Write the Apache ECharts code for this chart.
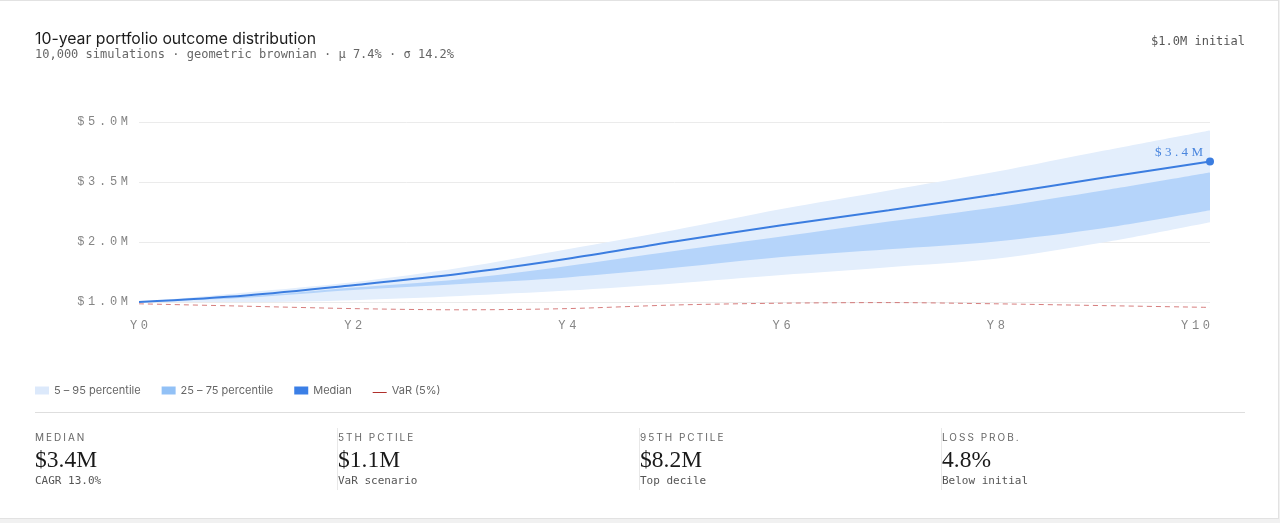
<!DOCTYPE html>
<html>
<head>
<meta charset="utf-8">
<script src="https://cdn.jsdelivr.net/npm/echarts@6/dist/echarts.min.js"></script>
<style>
html,body{margin:0;padding:0;width:1280px;height:523px;overflow:hidden;background:#f1f1f1;}
#card{position:absolute;left:0;top:0;width:1279px;height:519px;box-sizing:border-box;background:#fff;border:1px solid #e2e2e2;border-left:none;}
#chart{position:absolute;left:0;top:0;width:1280px;height:523px;}
.t{position:absolute;white-space:nowrap;z-index:2;}
#title{left:35px;top:30px;font:400 15.8px Inter,"Noto Sans",sans-serif;color:#1c1c1c;line-height:18px;}
#sub{left:35px;top:47px;font:12px "DejaVu Sans Mono",monospace;color:#666;line-height:14px;}
#init{right:35px;top:34px;font:12px "DejaVu Sans Mono",monospace;color:#555;line-height:14px;}
#sep{position:absolute;left:35px;top:412px;width:1210px;height:1px;background:#dedede;z-index:2;}
.col{position:absolute;top:428px;height:62px;width:300px;z-index:2;}
.col.b{border-left:1px solid #e8e8e8;}
.lab{position:absolute;left:0;top:3px;font:10px Inter,"Noto Sans",sans-serif;letter-spacing:2px;color:#666;line-height:12px;white-space:nowrap;}
.val{position:absolute;left:0;top:17px;font:23.5px "Liberation Serif",serif;color:#1a1a1a;line-height:28px;white-space:nowrap;}
.sb{position:absolute;left:0;top:46px;font:11px "DejaVu Sans Mono",monospace;color:#555;line-height:14px;white-space:nowrap;}
</style>
</head>
<body>
<div id="card"></div>
<div id="chart"></div>
<div class="t" id="title"></div>
<div class="t" id="sub"></div>
<div class="t" id="init"></div>
<div id="sep"></div>
<div id="stats"></div>
<script>
// ---- data ----
const years = ['Y0','Y1','Y2','Y3','Y4','Y5','Y6','Y7','Y8','Y9','Y10'];
const p5     = [1.00, 1.00, 1.03, 1.10, 1.19, 1.31, 1.45, 1.58, 1.72, 1.99, 2.33];
const p25    = [1.00, 1.07, 1.20, 1.30, 1.41, 1.57, 1.75, 1.88, 2.01, 2.23, 2.53];
const median = [1.00, 1.11, 1.28, 1.47, 1.72, 2.01, 2.28, 2.53, 2.79, 3.07, 3.34];
const p75    = [1.00, 1.09, 1.24, 1.38, 1.60, 1.85, 2.09, 2.34, 2.58, 2.86, 3.16];
const p95    = [1.00, 1.16, 1.33, 1.57, 1.88, 2.20, 2.55, 2.86, 3.17, 3.52, 3.86];
const var5   = [0.97, 0.93, 0.89, 0.87, 0.89, 0.95, 0.98, 0.99, 0.97, 0.94, 0.91];
const yTickValues = [1, 2, 3, 4];
const yTickLabels = ['$1.0M', '$2.0M', '$3.5M', '$5.0M'];
const endLabel = '$3.4M';
const legendNames = ['5 – 95 percentile', '25 – 75 percentile', 'Median', 'VaR (5%)'];
const statLabels = ['MEDIAN', '5TH PCTILE', '95TH PCTILE', 'LOSS PROB.'];
const statValues = ['$3.4M', '$1.1M', '$8.2M', '4.8%'];
const statSubs = ['CAGR 13.0%', 'VaR scenario', 'Top decile', 'Below initial'];
const titleText = '10-year portfolio outcome distribution';
const subtitleText = '10,000 simulations · geometric brownian · µ 7.4% · σ 14.2%';
const initialText = '$1.0M initial';

// ---- html text ----
document.getElementById('title').textContent = titleText;
document.getElementById('sub').textContent = subtitleText;
document.getElementById('init').textContent = initialText;
const colX = [35, 337, 639, 941];
const stats = document.getElementById('stats');
statLabels.forEach((l, i) => {
  const d = document.createElement('div');
  d.className = 'col' + (i > 0 ? ' b' : '');
  d.style.left = colX[i] + 'px';
  const a = document.createElement('div'); a.className = 'lab'; a.textContent = l;
  const b = document.createElement('div'); b.className = 'val'; b.textContent = statValues[i];
  const c = document.createElement('div'); c.className = 'sb'; c.textContent = statSubs[i];
  d.appendChild(a); d.appendChild(b); d.appendChild(c);
  stats.appendChild(d);
});

// ---- chart ----
function spaced(str, key) {
  return str.split('').map((c, i, a) => '{' + (i < a.length - 1 ? key : key + 'E') + '|' + c + '}').join('');
}
const MONO = '"Liberation Mono", "DejaVu Sans Mono", monospace';
const axRich = {
  ax: { fontFamily: MONO, fontSize: 12, color: '#858585', padding: [0, 3.7, 0, 0] },
  axE: { fontFamily: MONO, fontSize: 12, color: '#858585' }
};
const diff = (a, b) => a.map((v, i) => +(v - b[i]).toFixed(4));

const chart = echarts.init(document.getElementById('chart'), null, { renderer: 'canvas' });
const hidden = { lineStyle: { opacity: 0, width: 0 }, symbol: 'none', smooth: 0.3, silent: true };
chart.setOption({
  animation: false,
  backgroundColor: 'transparent',
  grid: { left: 139, right: 70, top: 122, bottom: 209 },
  legend: {
    left: 35, top: 385, padding: 0, itemWidth: 14, itemHeight: 8, itemGap: 21, selectedMode: false,
    textStyle: { color: '#666', fontSize: 11, fontFamily: 'Inter, "Noto Sans", sans-serif' },
    data: [
      { name: legendNames[0], icon: 'rect', itemStyle: { color: '#dce9fb', borderWidth: 0 } },
      { name: legendNames[1], icon: 'rect', itemStyle: { color: '#92c1f6', borderWidth: 0 } },
      { name: legendNames[2], icon: 'rect', itemStyle: { color: '#3b7fe6', borderWidth: 0 } },
      { name: legendNames[3], icon: 'path://M0,0L0.01,0L0.01,0.01Z M0,5.5L14,5.5L14,6.6L0,6.6Z M13.99,8L14,8L14,7.99Z', itemStyle: { color: '#b0302c', borderWidth: 0 } }
    ]
  },
  xAxis: {
    type: 'category', data: years, boundaryGap: false,
    axisLine: { show: false }, axisTick: { show: false }, splitLine: { show: false },
    axisLabel: { interval: 1, margin: 6, alignMaxLabel: 'right', formatter: v => spaced(v, 'ax'), rich: axRich }
  },
  yAxis: {
    type: 'value', min: 0.8, max: 4,
    axisLine: { show: false },
    axisTick: { show: false, customValues: yTickValues },
    splitLine: { show: true, lineStyle: { color: '#ebebeb', width: 1 } },
    axisLabel: {
      customValues: yTickValues, margin: 11,
      formatter: v => spaced(yTickLabels[yTickValues.indexOf(Math.round(v))] || '', 'ax'),
      rich: axRich
    }
  },
  series: [
    Object.assign({ name: 'p5base', type: 'line', stack: 'outer', data: p5 }, hidden),
    Object.assign({ name: legendNames[0], type: 'line', stack: 'outer', data: diff(p95, p5),
      areaStyle: { color: '#e3eefc', opacity: 1 } }, hidden),
    Object.assign({ name: 'p25base', type: 'line', stack: 'inner', data: p25 }, hidden),
    Object.assign({ name: legendNames[1], type: 'line', stack: 'inner', data: diff(p75, p25),
      areaStyle: { color: '#b5d4fa', opacity: 1 } }, hidden),
    {
      name: legendNames[3], type: 'line', data: var5, smooth: 0.3, symbol: 'none', silent: true,
      lineStyle: { color: 'rgba(196,70,70,0.7)', width: 1, type: [5, 4] }, z: 3
    },
    {
      name: legendNames[2], type: 'line', data: median, smooth: 0.3, symbol: 'none', silent: true,
      lineStyle: { color: '#3b7de0', width: 2 }, z: 4,
      markPoint: {
        silent: true, symbol: 'circle', symbolSize: 8, itemStyle: { color: '#3b7de0' },
        label: {
          show: true, position: 'left', distance: 3, offset: [0, -9],
          formatter: () => spaced(endLabel, 'ml'),
          rich: {
            ml: { fontFamily: '"Liberation Serif", serif', fontSize: 13, color: '#4a86de', padding: [0, 3.4, 0, 0] },
            mlE: { fontFamily: '"Liberation Serif", serif', fontSize: 13, color: '#4a86de' }
          }
        },
        data: [{ coord: [years[years.length - 1], median[median.length - 1]] }]
      }
    }
  ]
});
</script>
</body>
</html>
